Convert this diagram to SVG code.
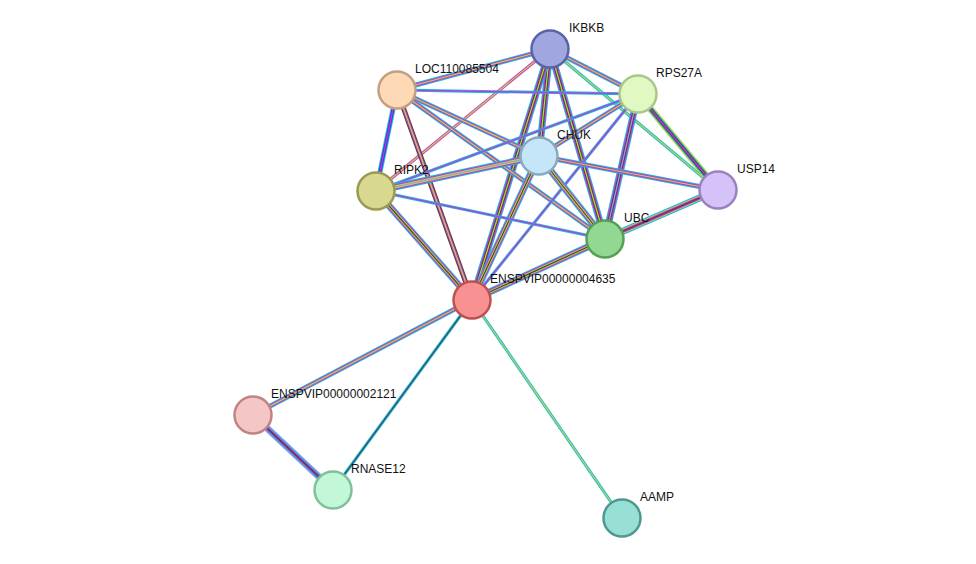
<svg xmlns="http://www.w3.org/2000/svg" xmlns:xlink="http://www.w3.org/1999/xlink" width="976" height="564" viewBox="0 0 976 564">
<style>
.c{stroke:#1ab8e0;fill:none}.m{stroke:#d22ed2;fill:none}.y{stroke:#b8dc3a;fill:none}.k{stroke:#444;fill:none}.b{stroke:#3c3cd8;fill:none}.p{stroke:#9c9ce8;fill:none}
.w7{stroke-width:7}.w5{stroke-width:5}.w3{stroke-width:3}.w1{stroke-width:1.2}
.n{stroke-width:2.5}
text{font-family:"Liberation Sans",Arial,sans-serif;font-size:12px;fill:#111}
</style>
<defs>
<path id="e1" d="M550,49L397,90"/><path id="e2" d="M550,49L638,94"/><path id="e3" d="M550,49L539,156"/><path id="e4" d="M550,49L376,191"/><path id="e5" d="M550,49L718,190"/><path id="e6" d="M550,49L605,239"/><path id="e7" d="M550,49L472,300"/>
<path id="e8" d="M397,90L638,94"/><path id="e9" d="M397,90L539,156"/><path id="e10" d="M397,90L376,191"/><path id="e11" d="M397,90L605,239"/><path id="e12" d="M397,90L472,300"/>
<path id="e13" d="M638,94L539,156"/><path id="e14" d="M638,94L376,191"/><path id="e15" d="M638,94L718,190"/><path id="e16" d="M638,94L605,239"/><path id="e17" d="M638,94L472,300"/>
<path id="e18" d="M539,156L376,191"/><path id="e19" d="M539,156L718,190"/><path id="e20" d="M539,156L605,239"/><path id="e21" d="M539,156L472,300"/>
<path id="e22" d="M376,191L605,239"/><path id="e23" d="M376,191L472,300"/><path id="e24" d="M718,190L605,239"/><path id="e25" d="M605,239L472,300"/>
<path id="e27" d="M472,300L253,415"/><path id="e28" d="M472,300L333,490"/><path id="e29" d="M472,300L622,518"/><path id="e30" d="M253,415L333,490"/>
</defs>
<g id="connectors">
<use href="#e1" class="c w5"/><use href="#e1" class="m w3"/><use href="#e1" class="y w1"/>
<use href="#e2" class="c w5"/><use href="#e2" class="m w3"/><use href="#e2" class="y w1"/>
<use href="#e3" class="c w7"/><use href="#e3" class="m w5"/><use href="#e3" class="k w3"/><use href="#e3" class="y w1"/>
<use href="#e4" class="m w3"/><use href="#e4" class="y w1"/>
<use href="#e5" class="c w3"/><use href="#e5" class="y w1"/>
<use href="#e6" class="c w7"/><use href="#e6" class="m w5"/><use href="#e6" class="k w3"/><use href="#e6" class="y w1"/>
<use href="#e7" class="c w7"/><use href="#e7" class="m w5"/><use href="#e7" class="k w3"/><use href="#e7" class="y w1"/>
<use href="#e8" class="c w3"/><use href="#e8" class="m w1"/>
<use href="#e9" class="c w5"/><use href="#e9" class="m w3"/><use href="#e9" class="y w1"/>
<use href="#e10" class="c w5"/><use href="#e10" class="b w3"/><use href="#e10" class="m w1"/>
<use href="#e11" class="c w5"/><use href="#e11" class="m w3"/><use href="#e11" class="y w1"/>
<use href="#e12" class="k w5"/><use href="#e12" class="m w3"/><use href="#e12" class="y w1"/>
<use href="#e13" class="c w5"/><use href="#e13" class="m w3"/><use href="#e13" class="y w1"/>
<use href="#e14" class="c w3"/><use href="#e14" class="m w1"/>
<use href="#e15" class="y w7"/><use href="#e15" class="c w5"/><use href="#e15" class="k w3"/><use href="#e15" class="m w1"/>
<use href="#e16" class="c w7"/><use href="#e16" class="m w5"/><use href="#e16" class="k w3"/><use href="#e16" class="p w1"/>
<use href="#e17" class="c w3"/><use href="#e17" class="m w1"/>
<use href="#e18" class="c w7"/><use href="#e18" class="m w5"/><use href="#e18" class="y w3"/><use href="#e18" class="p w1"/>
<use href="#e19" class="c w5"/><use href="#e19" class="m w3"/><use href="#e19" class="y w1"/>
<use href="#e20" class="c w7"/><use href="#e20" class="m w5"/><use href="#e20" class="y w3"/><use href="#e20" class="k w1"/>
<use href="#e21" class="c w7"/><use href="#e21" class="m w5"/><use href="#e21" class="y w3"/><use href="#e21" class="k w1"/>
<use href="#e22" class="c w3"/><use href="#e22" class="m w1"/>
<use href="#e23" class="c w7"/><use href="#e23" class="m w5"/><use href="#e23" class="y w3"/><use href="#e23" class="k w1"/>
<use href="#e24" class="c w7"/><use href="#e24" class="y w5"/><use href="#e24" class="m w3"/><use href="#e24" class="k w1"/>
<use href="#e25" class="c w7"/><use href="#e25" class="m w5"/><use href="#e25" class="y w3"/><use href="#e25" class="k w1"/>
<use href="#e27" class="c w5"/><use href="#e27" class="m w3"/><use href="#e27" class="y w1"/>
<use href="#e28" class="c w3"/><use href="#e28" class="k w1"/>
<use href="#e29" class="c w3"/><use href="#e29" class="y w1"/>
<use href="#e30" class="p w7"/><use href="#e30" class="c w5"/><use href="#e30" class="m w3"/><use href="#e30" class="k w1"/>
</g>
<g id="IKBKB"><circle cx="550" cy="49" r="18.5" fill="#a0a6e0" stroke="#5a62a8" class="n"/><text x="569" y="32">IKBKB</text></g>
<g id="LOC110085504"><circle cx="397" cy="90" r="18.5" fill="#fdd9b5" stroke="#c0a080" class="n"/><text x="415" y="73">LOC110085504</text></g>
<g id="RPS27A"><circle cx="638" cy="94" r="18.5" fill="#e2f8c2" stroke="#a8c88a" class="n"/><text x="656" y="77">RPS27A</text></g>
<g id="CHUK"><circle cx="539" cy="156" r="18.5" fill="#c4e6f8" stroke="#88aac0" class="n"/><text x="557" y="139">CHUK</text></g>
<g id="RIPK2"><circle cx="376" cy="191" r="18.5" fill="#d8d890" stroke="#9a9a50" class="n"/><text x="394" y="174">RIPK2</text></g>
<g id="USP14"><circle cx="718" cy="190" r="18.5" fill="#d4c2f8" stroke="#9882c0" class="n"/><text x="737" y="173">USP14</text></g>
<g id="UBC"><circle cx="605" cy="239" r="18.5" fill="#92d892" stroke="#56a056" class="n"/><text x="624" y="222">UBC</text></g>
<g id="ENSPVIP00000004635"><circle cx="472" cy="300" r="18.5" fill="#f89292" stroke="#c05050" class="n"/><text x="490" y="283">ENSPVIP00000004635</text></g>
<g id="ENSPVIP00000002121"><circle cx="253" cy="415" r="18.5" fill="#f4c6c6" stroke="#c08484" class="n"/><text x="271" y="398">ENSPVIP00000002121</text></g>
<g id="RNASE12"><circle cx="333" cy="490" r="18.5" fill="#c2f8d8" stroke="#80c09a" class="n"/><text x="351" y="473">RNASE12</text></g>
<g id="AAMP"><circle cx="622" cy="518" r="18.5" fill="#98e0d6" stroke="#4e9890" class="n"/><text x="640" y="501">AAMP</text></g>
</svg>
